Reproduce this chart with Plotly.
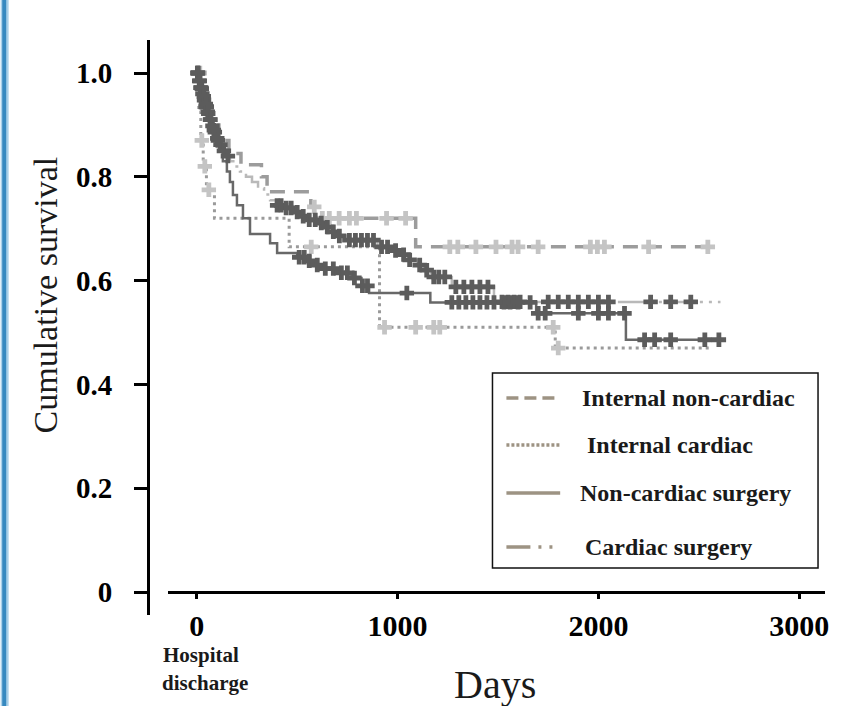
import numpy as np
import plotly.graph_objects as go

# ---- Kaplan-Meier data (days after hospital discharge) ----
# Internal non-cardiac
inc_days = [0, 20, 45, 75, 110, 160, 220, 322, 350, 568, 598, 1090]
inc_surv = [1.0, 0.96, 0.93, 0.90, 0.87, 0.845, 0.823, 0.80, 0.771, 0.742, 0.72, 0.665]
inc_end = 2578
inc_cens = [15, 50, 585, 625, 660, 709, 760, 795, 945, 1040, 1260, 1300, 1390,
            1490, 1570, 1600, 1700, 1960, 1995, 2030, 2250, 2545]

# Internal cardiac
ic_days = [0, 10, 20, 32, 48, 88, 460, 910, 1785]
ic_surv = [1.0, 0.93, 0.87, 0.82, 0.775, 0.72, 0.665, 0.51, 0.47]
ic_end = 2560
ic_cens = [25, 40, 60, 570, 935, 1090, 1180, 1210, 1775, 1800]

# Non-cardiac surgery
ncs_days = [0, 10, 20, 30, 40, 50, 60, 75, 95, 114, 130, 150, 165, 180, 200, 230,
            265, 365, 400, 500, 540, 580, 625, 700, 770, 820, 858, 1163, 1690, 2137]
ncs_surv = [1.0, 0.985, 0.97, 0.955, 0.94, 0.925, 0.91, 0.89, 0.87, 0.855, 0.83,
            0.81, 0.79, 0.765, 0.745, 0.72, 0.69, 0.672, 0.653, 0.645, 0.638, 0.63,
            0.623, 0.615, 0.605, 0.59, 0.576, 0.558, 0.537, 0.486]
ncs_end = 2630
ncs_cens = [5, 15, 25, 35, 45, 55, 68, 85, 105, 510, 535, 560, 600, 640, 680, 720,
            750, 785, 825, 850, 1046, 1270, 1305, 1340, 1375, 1410, 1445, 1480, 1530,
            1560, 1600, 1660, 1700, 1735, 1900, 2000, 2050, 2130, 2230, 2280, 2360,
            2530, 2600]

# Cardiac surgery
cs_days = [0, 8, 16, 24, 32, 42, 52, 62, 72, 84, 96, 110, 125, 145, 165, 190, 215,
           245, 275, 305, 335, 365, 395, 440, 480, 520, 560, 600, 640, 670, 700, 740,
           900, 960, 1010, 1060, 1100, 1135, 1165, 1270, 1480]
cs_surv = [1.0, 0.985, 0.972, 0.96, 0.948, 0.935, 0.922, 0.91, 0.898, 0.886, 0.874,
           0.862, 0.85, 0.84, 0.83, 0.82, 0.81, 0.80, 0.79, 0.778, 0.766, 0.755,
           0.745, 0.74, 0.732, 0.724, 0.717, 0.711, 0.703, 0.694, 0.686, 0.678,
           0.665, 0.658, 0.65, 0.64, 0.63, 0.62, 0.607, 0.588, 0.559]
cs_end = 2608
cs_cens = [3, 7, 12, 18, 22, 28, 36, 44, 50, 57, 66, 78, 90, 102, 118, 135, 155,
           400, 420, 445, 470, 500, 530, 560, 590, 620, 650, 680, 710, 760, 790, 820,
           850, 880, 920, 950, 990, 1030, 1060, 1110, 1145, 1180, 1205, 1235, 1290,
           1330, 1370, 1410, 1450, 1520, 1550, 1580, 1610, 1750, 1800, 1850, 1900,
           1950, 2000, 2050, 2260, 2360, 2460]

x_ticks = [0, 1000, 2000, 3000]
x_tick_text = ["0", "1000", "2000", "3000"]
y_ticks = [0, 0.2, 0.4, 0.6, 0.8, 1.0]
y_tick_text = ["0", "0.2", "0.4", "0.6", "0.8", "1.0"]

legend_labels = ["Internal non-cardiac", "Internal cardiac",
                 "Non-cardiac surgery", "Cardiac surgery"]

SERIF = "Liberation Serif, Times New Roman, serif"
W, H = 841, 706
ML, MR, MT, MB = 148, 13, 40, 91
PW, PH = W - ML - MR, H - MT - MB


def px(x):
    return (x - ML) / PW


def py(y):
    return (H - MB - y) / PH


def step_xy(days, surv, end):
    return list(days) + [end], list(surv) + [surv[-1]]


def surv_at(days, surv, t):
    d = np.asarray(days)
    s = np.asarray(surv)
    idx = np.searchsorted(d, np.asarray(t), side="right") - 1
    return s[idx]


fig = go.Figure()

DARK = "#5c5c5c"
LIGHT_MK = "#c4c4c4"

curves = [
    (ic_days, ic_surv, ic_end, "#9a9a9a", "3px,4px", 3),
    (inc_days, inc_surv, inc_end, "#9c9c9c", "15px,9px", 3.5),
    (cs_days, cs_surv, cs_end, "#b9b9b9", "26px,6px,3px,6px,3px,6px", 2.5),
    (ncs_days, ncs_surv, ncs_end, "#686868", "solid", 2.5),
]
for d, s, e, col, dash, w in curves:
    xs, ys = step_xy(d, s, e)
    fig.add_trace(go.Scatter(x=xs, y=ys, mode="lines", line_shape="hv",
                             line=dict(color=col, width=w, dash=dash),
                             showlegend=False, hoverinfo="skip"))

censors = [
    (ic_days, ic_surv, ic_cens, LIGHT_MK),
    (inc_days, inc_surv, inc_cens, LIGHT_MK),
    (cs_days, cs_surv, cs_cens, DARK),
    (ncs_days, ncs_surv, ncs_cens, DARK),
]
for d, s, c, col in censors:
    fig.add_trace(go.Scatter(x=c, y=surv_at(d, s, c), mode="markers",
                             marker=dict(symbol="cross", size=12, color=col,
                                         line=dict(width=0)),
                             showlegend=False, hoverinfo="skip"))

# x range: axis line starts at x=168px, 0 day at 197px, 201.7px per 1000 days
x0_px, day0_px, k = 168, 197, 0.2017
x_lo = (x0_px - day0_px) / k
x_hi = (W - MR - day0_px) / k
# y range: 0 at 592px, 1.0 at 73px
y_per = 519.0
y_lo = (592 - (H - MB)) / y_per
y_hi = (592 - MT) / y_per

fig.update_layout(
    width=W, height=H,
    margin=dict(l=ML, r=MR, t=MT, b=MB, pad=0),
    paper_bgcolor="white", plot_bgcolor="white",
    showlegend=False,
    xaxis=dict(domain=[px(x0_px), 1], range=[x_lo, x_hi], anchor="free",
               position=py(592), showline=True, linewidth=3, linecolor="black",
               ticks="outside", ticklen=5, tickwidth=3, tickcolor="black",
               tickvals=x_ticks, ticktext=x_tick_text, showgrid=False,
               zeroline=False, ticklabelstandoff=1,
               tickfont=dict(family=SERIF, size=30, color="black", weight="bold")),
    yaxis=dict(domain=[0, 1], range=[y_lo, y_hi], anchor="free", position=0,
               showline=True, linewidth=3, linecolor="black",
               ticks="outside", ticklen=13, tickwidth=3, tickcolor="black",
               tickvals=y_ticks, ticktext=y_tick_text, showgrid=False,
               zeroline=False, ticklabelstandoff=16,
               tickfont=dict(family=SERIF, size=29, color="black", weight="bold")),
)

shapes = []
annotations = []

# left-edge accent stripe
shapes.append(dict(type="rect", xref="paper", yref="paper", x0=px(0), x1=px(1.5),
                   y0=py(H), y1=py(0), fillcolor="#a9d0ea", line=dict(width=0),
                   layer="above"))
shapes.append(dict(type="rect", xref="paper", yref="paper", x0=px(1.5), x1=px(6),
                   y0=py(H), y1=py(0), fillcolor="#3689c0", line=dict(width=0),
                   layer="above"))
shapes.append(dict(type="rect", xref="paper", yref="paper", x0=px(6), x1=px(8),
                   y0=py(H), y1=py(0), fillcolor="#a6cfe9", line=dict(width=0),
                   layer="above"))

# legend box
shapes.append(dict(type="rect", xref="paper", yref="paper", x0=px(494), x1=px(821),
                   y0=py(568), y1=py(373), line=dict(color="#111111", width=1.5),
                   fillcolor="rgba(0,0,0,0)", layer="above"))

LEG = "#9d9383"
legend_rows = [
    (398, "12px,6px", 582),
    (445, "3px,2px", 587),
    (493, "solid", 580),
    (547, "24px,8px,3px,8px,3px,8px,3px", 585),
]
for (yy, dash, tx), label in zip(legend_rows, legend_labels):
    shapes.append(dict(type="line", xref="paper", yref="paper", x0=px(508),
                       x1=px(562), y0=py(yy), y1=py(yy),
                       line=dict(color=LEG, width=3.5, dash=dash), layer="above"))
    annotations.append(dict(xref="paper", yref="paper", x=px(tx), y=py(yy),
                            xanchor="left", yanchor="middle", showarrow=False,
                            text=label,
                            font=dict(family=SERIF, size=24, color="#1a1a1a",
                                      weight="bold")))

# axis titles
annotations.append(dict(xref="paper", yref="paper", x=px(45), y=py(295),
                        xanchor="center", yanchor="middle", showarrow=False,
                        textangle=-90, text="Cumulative survival",
                        font=dict(family=SERIF, size=34, color="#1a1a1a")))
annotations.append(dict(xref="paper", yref="paper", x=px(497), y=py(684),
                        xanchor="center", yanchor="middle", showarrow=False,
                        text="Days",
                        font=dict(family=SERIF, size=40, color="#1a1a1a")))
annotations.append(dict(xref="paper", yref="paper", x=px(201), y=py(655),
                        xanchor="center", yanchor="middle", showarrow=False,
                        text="Hospital",
                        font=dict(family=SERIF, size=21, color="#1a1a1a",
                                  weight="bold")))
annotations.append(dict(xref="paper", yref="paper", x=px(205), y=py(683),
                        xanchor="center", yanchor="middle", showarrow=False,
                        text="discharge",
                        font=dict(family=SERIF, size=21, color="#1a1a1a",
                                  weight="bold")))

fig.update_layout(shapes=shapes, annotations=annotations)
fig.write_html("out.html")
